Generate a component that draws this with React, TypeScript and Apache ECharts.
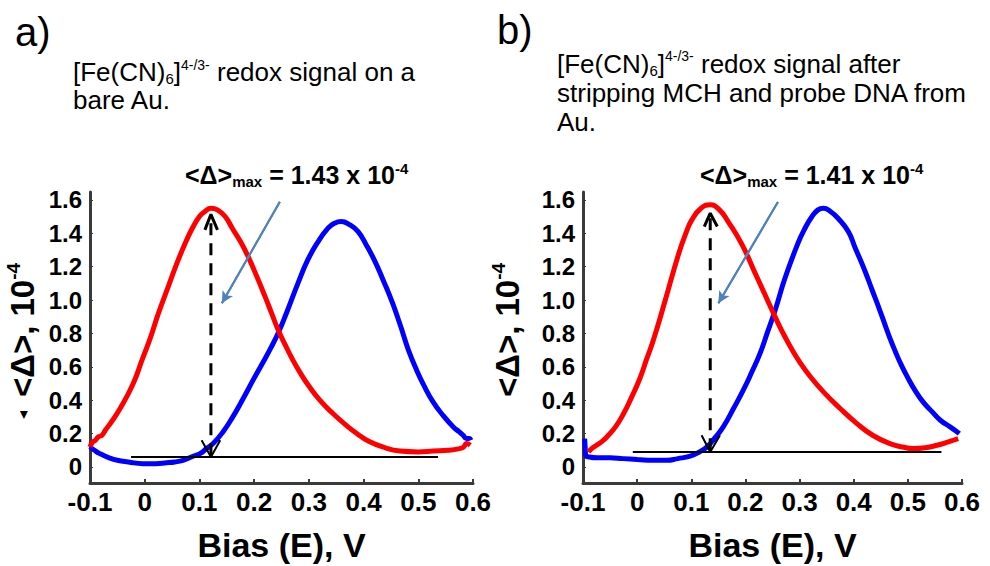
import React, { useEffect, useRef } from "react";
import * as echarts from "echarts";

// ---------- data (E in V, <Δ> in 10^-4) ----------
const redA: number[][] = [
  [-0.1, 0.12], [-0.095, 0.15], [-0.09, 0.16], [-0.085, 0.18], [-0.078, 0.19], [-0.072, 0.22],
  [-0.063, 0.26], [-0.045, 0.35], [-0.021, 0.5], [-0.005, 0.64], [0.01, 0.77], [0.025, 0.92],
  [0.043, 1.08], [0.06, 1.23], [0.074, 1.34], [0.087, 1.43], [0.1, 1.5], [0.11, 1.53],
  [0.121, 1.55], [0.133, 1.54], [0.147, 1.5], [0.16, 1.43], [0.175, 1.35], [0.189, 1.26],
  [0.205, 1.14], [0.22, 1.02], [0.232, 0.92], [0.244, 0.82], [0.257, 0.73], [0.27, 0.645],
  [0.284, 0.565], [0.3, 0.485], [0.32, 0.4], [0.344, 0.32], [0.37, 0.245], [0.39, 0.195],
  [0.406, 0.16], [0.435, 0.12], [0.467, 0.095], [0.5, 0.09], [0.527, 0.095], [0.555, 0.1],
  [0.575, 0.11], [0.583, 0.12], [0.588, 0.14], [0.595, 0.13],
];
const blueA: number[][] = [
  [-0.1, 0.12], [-0.092, 0.1], [-0.082, 0.08], [-0.065, 0.055], [-0.05, 0.04], [-0.03, 0.03],
  [-0.003, 0.02], [0.02, 0.02], [0.04, 0.025], [0.055, 0.03], [0.07, 0.04], [0.085, 0.06],
  [0.101, 0.08], [0.113, 0.11], [0.125, 0.14], [0.143, 0.21], [0.161, 0.3], [0.18, 0.41],
  [0.198, 0.52], [0.215, 0.62], [0.23, 0.71], [0.245, 0.81], [0.26, 0.93], [0.28, 1.1],
  [0.298, 1.24], [0.315, 1.34], [0.335, 1.43], [0.347, 1.46], [0.359, 1.47], [0.375, 1.45],
  [0.39, 1.41], [0.405, 1.33], [0.421, 1.23], [0.437, 1.11], [0.452, 0.99], [0.465, 0.87],
  [0.472, 0.8], [0.482, 0.7], [0.497, 0.58], [0.51, 0.49], [0.527, 0.39], [0.545, 0.31],
  [0.564, 0.24], [0.575, 0.21], [0.582, 0.19], [0.588, 0.17], [0.593, 0.17], [0.596, 0.16],
];
const redB: number[][] = [
  [-0.09, 0.09], [-0.084, 0.11], [-0.075, 0.13], [-0.066, 0.15], [-0.056, 0.18], [-0.04, 0.24],
  [-0.025, 0.32], [-0.01, 0.42], [0.005, 0.53], [0.018, 0.65], [0.03, 0.76], [0.052, 1.0],
  [0.076, 1.27], [0.09, 1.4], [0.101, 1.48], [0.118, 1.55], [0.135, 1.57], [0.152, 1.54],
  [0.168, 1.47], [0.194, 1.33], [0.218, 1.16], [0.235, 1.04], [0.249, 0.94], [0.262, 0.85],
  [0.273, 0.78], [0.283, 0.72], [0.3, 0.63], [0.32, 0.54], [0.344, 0.45], [0.375, 0.35],
  [0.406, 0.26], [0.435, 0.19], [0.467, 0.14], [0.49, 0.12], [0.51, 0.11], [0.532, 0.115],
  [0.554, 0.13], [0.575, 0.15], [0.584, 0.16], [0.593, 0.17],
];
const blueB: number[][] = [
  [-0.097, 0.17], [-0.096, 0.12], [-0.095, 0.07], [-0.088, 0.06], [-0.074, 0.055], [-0.05, 0.055],
  [-0.026, 0.05], [0, 0.045], [0.03, 0.04], [0.055, 0.04], [0.075, 0.05], [0.098, 0.065],
  [0.115, 0.09], [0.129, 0.12], [0.145, 0.18], [0.159, 0.24], [0.178, 0.35], [0.196, 0.46],
  [0.212, 0.57], [0.227, 0.68], [0.24, 0.8], [0.255, 0.94], [0.273, 1.13], [0.297, 1.34],
  [0.31, 1.43], [0.323, 1.5], [0.334, 1.54], [0.344, 1.55], [0.357, 1.53], [0.371, 1.49],
  [0.39, 1.41], [0.403, 1.31], [0.42, 1.18], [0.434, 1.06], [0.448, 0.94], [0.458, 0.85],
  [0.467, 0.77], [0.477, 0.69], [0.488, 0.61], [0.499, 0.54], [0.513, 0.46], [0.528, 0.39],
  [0.545, 0.33], [0.56, 0.28], [0.578, 0.24], [0.591, 0.21], [0.595, 0.2],
];

// annotation geometry (data coordinates)
const baselineA = [[-0.025, 0.06], [0.536, 0.06]];
const dashA = [[0.121, 0.07], [0.121, 1.5]];
const capTopA = [[0.11, 1.42], [0.121, 1.513], [0.133, 1.42]];
const capBotA = [[0.104, 0.16], [0.121, 0.06], [0.138, 0.16]];
const pointerA = [[0.247, 1.589], [0.141, 0.98]];

const baselineB = [[-0.008, 0.09], [0.562, 0.09]];
const dashB = [[0.135, 0.1], [0.135, 1.51]];
const capTopB = [[0.124, 1.44], [0.135, 1.52], [0.148, 1.44]];
const capBotB = [[0.119, 0.19], [0.135, 0.09], [0.153, 0.19]];
const pointerB = [[0.26, 1.587], [0.15, 0.98]];

const yTicks = [0, 0.2, 0.4, 0.6, 0.8, 1.0, 1.2, 1.4, 1.6];
const xMin = -0.1;
const xMax = 0.6;
const xStep = 0.1;
const yMin = -0.096;
const yMax = 1.647;

const panelLetters = ["a)", "b)"];
const maxValues = ["1.43", "1.41"];

const FONT = '"Liberation Sans", Arial, Helvetica, sans-serif';
const AXIS_COLOR = "#3a3a3a";

function axesFor(i: number) {
  const x = {
    type: "value",
    gridIndex: i,
    min: xMin,
    max: xMax,
    interval: xStep,
    axisLine: { show: true, onZero: false, lineStyle: { color: AXIS_COLOR, width: 3 } },
    axisTick: { show: true, inside: true, length: 4, lineStyle: { color: AXIS_COLOR, width: 2 } },
    splitLine: { show: false },
    axisLabel: {
      color: "#000",
      fontFamily: FONT,
      fontSize: 26,
      fontWeight: "bold",
      margin: 6,
      formatter: (v: number) => String(Math.round(v * 10) / 10),
    },
    name: "Bias (E), V",
    nameLocation: "middle",
    nameGap: 45,
    nameTextStyle: { color: "#000", fontFamily: FONT, fontSize: 34, fontWeight: "bold" },
  };
  const y = {
    type: "value",
    gridIndex: i,
    min: yMin,
    max: yMax,
    axisLine: { show: true, onZero: false, lineStyle: { color: AXIS_COLOR, width: 3 } },
    axisTick: { show: true, inside: true, length: 3, customValues: yTicks, lineStyle: { color: AXIS_COLOR, width: 1 } },
    splitLine: { show: false },
    axisLabel: {
      customValues: yTicks,
      color: "#000",
      fontFamily: FONT,
      fontSize: 24,
      fontWeight: "bold",
      margin: 8,
      formatter: (v: number) => (v === 0 ? "0" : v.toFixed(1)),
    },
  };
  return { x, y };
}

function lineSeries(i: number, data: number[][], color: string, width: number, extra: any = {}) {
  return {
    type: "line",
    xAxisIndex: i,
    yAxisIndex: i,
    data,
    symbol: "none",
    showSymbol: false,
    silent: true,
    lineStyle: { color, width, ...(extra.lineStyle || {}) },
    smooth: extra.smooth ?? false,
    z: extra.z ?? 2,
  };
}

function pointer(i: number, data: number[][]) {
  return {
    type: "line",
    xAxisIndex: i,
    yAxisIndex: i,
    data,
    symbol: "none",
    silent: true,
    lineStyle: { color: "#4f81bd", width: 2 },
    z: 5,
    markLine: {
      silent: true,
      symbol: ["none", "arrow"],
      symbolSize: [9, 12],
      label: { show: false },
      lineStyle: { color: "#4f81bd", width: 2, type: "solid" },
      data: [[{ coord: data[0] }, { coord: data[1] }]],
    },
  };
}

const richTitle = {
  m: { fontSize: 26, lineHeight: 28, fontFamily: FONT, fill: "#000" },
  sub: { fontSize: 15, lineHeight: 16, verticalAlign: "bottom", fontFamily: FONT },
  sup: { fontSize: 14, lineHeight: 14, verticalAlign: "top", fontFamily: FONT },
};

function annotation(x: number, val: string) {
  return {
    type: "text",
    x,
    y: 175,
    z: 10,
    style: {
      text: `{m|<Δ>}{sub|max}{m| = ${val} x 10}{sup|-4}`,
      align: "left",
      verticalAlign: "middle",
      fill: "#000",
      rich: {
        m: { fontSize: 25, fontWeight: "bold", fontFamily: FONT, lineHeight: 28 },
        sub: { fontSize: 15, fontWeight: "bold", fontFamily: FONT, lineHeight: 18, verticalAlign: "bottom" },
        sup: { fontSize: 15, fontWeight: "bold", fontFamily: FONT, lineHeight: 16, verticalAlign: "top" },
      },
    },
  };
}

function yTitle(x: number) {
  return {
    type: "text",
    x,
    y: 330,
    rotation: Math.PI / 2,
    z: 10,
    style: {
      text: "{m|<Δ>, 10}{sup|-4}",
      align: "center",
      verticalAlign: "middle",
      fill: "#000",
      rich: {
        m: { fontSize: 33, fontWeight: "bold", fontFamily: FONT, lineHeight: 36 },
        sup: { fontSize: 19, fontWeight: "bold", fontFamily: FONT, lineHeight: 20, verticalAlign: "top" },
      },
    },
  };
}

export default function App() {
  const ref = useRef<HTMLDivElement>(null);

  useEffect(() => {
    document.body.style.margin = "0";
    if (!ref.current) return;
    const chart = echarts.init(ref.current, null, { renderer: "svg" });
    const a0 = axesFor(0);
    const a1 = axesFor(1);

    const option: any = {
      animation: false,
      backgroundColor: "#fff",
      grid: [
        { left: 90, top: 192, width: 383, height: 291, containLabel: false, outerBoundsMode: "none" },
        { left: 583, top: 192, width: 379, height: 291, containLabel: false, outerBoundsMode: "none" },
      ],
      xAxis: [a0.x, a1.x],
      yAxis: [a0.y, a1.y],
      series: [
        lineSeries(0, blueA, "#0000ff", 5, { smooth: 0.5 }),
        lineSeries(0, redA, "#ff0000", 5, { smooth: 0.5, z: 3 }),
        lineSeries(0, baselineA, "#000", 2, { z: 4 }),
        lineSeries(0, dashA, "#000", 3, { z: 4, lineStyle: { type: [12, 8] } }),
        lineSeries(0, capTopA, "#000", 3, { z: 4 }),
        lineSeries(0, capBotA, "#000", 2, { z: 4 }),
        pointer(0, pointerA),

        lineSeries(1, blueB, "#0000ff", 5, { smooth: 0.5 }),
        lineSeries(1, redB, "#ff0000", 5, { smooth: 0.5, z: 3 }),
        lineSeries(1, baselineB, "#000", 2, { z: 4 }),
        lineSeries(1, dashB, "#000", 3, { z: 4, lineStyle: { type: [12, 8] } }),
        lineSeries(1, capTopB, "#000", 3, { z: 4 }),
        lineSeries(1, capBotB, "#000", 2, { z: 4 }),
        pointer(1, pointerB),
      ],
      graphic: [
        {
          type: "text", x: 15, y: 32,
          style: { text: panelLetters[0], fontSize: 40, fontFamily: FONT, fill: "#000", align: "left", verticalAlign: "middle" },
        },
        {
          type: "text", x: 497, y: 30,
          style: { text: panelLetters[1], fontSize: 40, fontFamily: FONT, fill: "#000", align: "left", verticalAlign: "middle" },
        },
        {
          type: "text", x: 73, y: 58,
          style: {
            text: "{m|[Fe(CN)}{sub|6}{m|]}{sup|4-/3-}{m| redox signal on a}\n{m|bare Au.}",
            align: "left", verticalAlign: "top", fill: "#000", rich: richTitle,
          },
        },
        {
          type: "text", x: 557, y: 49,
          style: {
            text: "{m|[Fe(CN)}{sub|6}{m|]}{sup|4-/3-}{m| redox signal after}\n{m|stripping MCH and probe DNA from}\n{m|Au.}",
            align: "left", verticalAlign: "top", fill: "#000",
            rich: { ...richTitle, m: { ...richTitle.m, lineHeight: 29 } },
          },
        },
        annotation(185, maxValues[0]),
        annotation(700, maxValues[1]),
        yTitle(22),
        yTitle(507),
        {
          type: "text", x: 22, y: 415, rotation: Math.PI / 2,
          style: { text: "◂", fontSize: 16, fontFamily: "DejaVu Sans", fill: "#000", align: "center", verticalAlign: "middle" },
        },
      ],
    };
    chart.setOption(option);
    return () => chart.dispose();
  }, []);

  return <div ref={ref} style={{ width: 990, height: 566 }} />;
}
